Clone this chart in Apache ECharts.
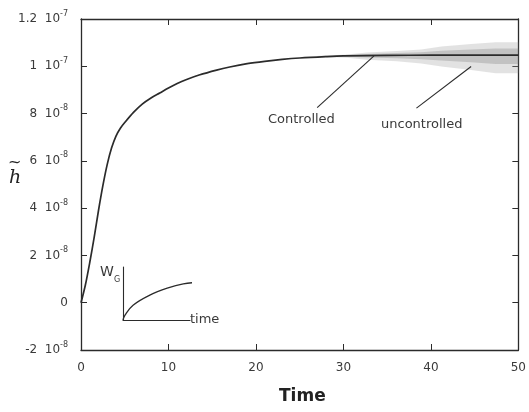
<!DOCTYPE html>
<html>
<head>
<meta charset="utf-8">
<title>Controlled vs uncontrolled response</title>
<script src="https://cdn.jsdelivr.net/npm/echarts@6/dist/echarts.min.js"></script>
<style>
  html, body { margin: 0; padding: 0; background: #fff; }
  #chart { width: 529px; height: 412px; }
</style>
</head>
<body>
<div id="chart"></div>
<script>
// Values on the vertical axis are expressed in units of 1e-8.

// Controlled response h~(t)
const ctrlT = [0, 0.5, 1, 1.5, 2, 2.5, 3, 3.5, 4, 4.5, 5, 6, 7, 8, 9, 10, 11, 12, 13.5, 15.5, 17, 19, 21, 23, 25, 28, 30, 35, 40, 45, 50];
const ctrlV = [0, 0.75, 1.7, 2.75, 3.9, 4.95, 5.85, 6.55, 7.05, 7.38, 7.62, 8.05, 8.4, 8.66, 8.87, 9.08, 9.27, 9.43, 9.63, 9.84, 9.97, 10.11, 10.21, 10.29, 10.35, 10.41, 10.44, 10.46, 10.47, 10.47, 10.47];

// Uncontrolled response: envelope of the growing oscillation about the plateau
const uncT     = [27, 30.4, 32.7, 36.1, 38.9, 41.2, 44.6, 47.4, 50];
const uncUpper = [10.44, 10.50, 10.58, 10.65, 10.71, 10.84, 10.94, 11.02, 11.02];
const uncLower = [10.40, 10.36, 10.28, 10.21, 10.12, 9.99, 9.84, 9.71, 9.71];
// denser core of the oscillation
const uncCoreUpper = [10.43, 10.47, 10.52, 10.56, 10.59, 10.66, 10.71, 10.75, 10.75];
const uncCoreLower = [10.41, 10.40, 10.37, 10.34, 10.30, 10.24, 10.17, 10.10, 10.10];

// Inset sketch: W_G versus time (normalised)
const insetT = [0, 0.03, 0.15, 0.40, 0.66, 0.90, 1.19];
const insetW = [0, 0.094, 0.28, 0.47, 0.60, 0.68, 0.72];

// Axis ticks
const xTicks = [0, 10, 20, 30, 40, 50];
const yTickMant = ['-2', '0', '2', '4', '6', '8', '1', '1.2'];
const yTickExp  = ['-8', '',  '-8', '-8', '-8', '-8', '-7', '-7'];
const Y_MIN = -2, Y_MAX = 12, Y_STEP = 2;

// Leader lines from the annotations to the curves, in data coordinates
const leaderControlled   = [[27.0, 8.25], [33.5, 10.44]];
const leaderUncontrolled = [[38.35, 8.23], [44.6, 9.99]];

const FONT = 'DejaVu Sans';
const INK = '#2b2b2b';
const TXT = '#3a3a3a';

const ctrlData = ctrlT.map((t, i) => [t, ctrlV[i]]);
const insetData = insetT.map((t, i) => [t, insetW[i]]);

// Closed polygon (upper edge forward, lower edge back) drawn in data space
function bandSeries(name, upper, lower, fill) {
  return {
    name: name, type: 'custom', xAxisIndex: 0, yAxisIndex: 0, silent: true, z: 1,
    data: uncT.map((t, i) => [t, upper[i], lower[i]]),
    encode: { x: 0, y: [1, 2] },
    renderItem: function (params, api) {
      if (params.dataIndex !== 0) return null;
      const pts = [];
      for (let i = 0; i < uncT.length; i++) pts.push(api.coord([uncT[i], upper[i]]));
      for (let i = uncT.length - 1; i >= 0; i--) pts.push(api.coord([uncT[i], lower[i]]));
      return { type: 'polygon', shape: { points: pts }, style: { fill: fill } };
    }
  };
}

const chart = echarts.init(document.getElementById('chart'), null, { renderer: 'canvas' });

const frameAxis = {
  type: 'value',
  gridIndex: 0,
  axisLine: { show: true, onZero: false, lineStyle: { color: INK, width: 1.3 } },
  axisTick: { show: true, inside: true, length: 6, lineStyle: { color: INK, width: 1 } },
  splitLine: { show: false }
};

chart.setOption({
  animation: false,
  backgroundColor: '#fff',
  grid: [
    { left: 81, top: 19, right: 6, bottom: 62 },
    { left: 123, top: 267, width: 67, height: 53 }
  ],
  xAxis: [
    Object.assign({}, frameAxis, {
      position: 'bottom', min: xTicks[0], max: xTicks[xTicks.length - 1], interval: xTicks[1] - xTicks[0],
      axisLabel: { show: true, margin: 12, fontSize: 12, fontFamily: FONT, color: TXT }
    }),
    Object.assign({}, frameAxis, {
      position: 'top', min: xTicks[0], max: xTicks[xTicks.length - 1], interval: xTicks[1] - xTicks[0],
      axisLabel: { show: false }
    }),
    {
      type: 'value', gridIndex: 1, min: 0, max: 1,
      axisLine: { show: true, onZero: false, lineStyle: { color: INK, width: 1.1 } },
      axisTick: { show: false }, axisLabel: { show: false }, splitLine: { show: false }
    }
  ],
  yAxis: [
    Object.assign({}, frameAxis, {
      position: 'left', min: Y_MIN, max: Y_MAX, interval: Y_STEP,
      axisLabel: {
        show: true, margin: 13,
        formatter: function (v) {
          const i = Math.round((v - Y_MIN) / Y_STEP);
          const m = yTickMant[i], e = yTickExp[i];
          return e ? '{b|' + m + '  10}{s|' + e + '}' : '{b|' + m + '}';
        },
        rich: {
          b: { fontSize: 12, fontFamily: FONT, color: TXT },
          s: { fontSize: 8, fontFamily: FONT, color: TXT, padding: [0, 0, 11, 0] }
        }
      }
    }),
    Object.assign({}, frameAxis, {
      position: 'right', min: Y_MIN, max: Y_MAX, interval: Y_STEP,
      axisLabel: { show: false }
    }),
    {
      type: 'value', gridIndex: 1, min: 0, max: 1,
      axisLine: { show: true, onZero: false, lineStyle: { color: INK, width: 1.1 } },
      axisTick: { show: false }, axisLabel: { show: false }, splitLine: { show: false }
    }
  ],
  series: [
    bandSeries('uncontrolled', uncUpper, uncLower, 'rgba(160,160,160,0.30)'),
    bandSeries('uncontrolled-core', uncCoreUpper, uncCoreLower, 'rgba(120,120,120,0.30)'),
    {
      name: 'Controlled', type: 'line', xAxisIndex: 0, yAxisIndex: 0,
      data: ctrlData, symbol: 'none', smooth: 0.3,
      lineStyle: { color: INK, width: 1.7 }, z: 3,
      markLine: {
        silent: true, symbol: ['none', 'none'],
        lineStyle: { color: INK, width: 1.1, type: 'solid' },
        label: { show: false },
        data: [
          [{ coord: leaderControlled[0] }, { coord: leaderControlled[1] }],
          [{ coord: leaderUncontrolled[0] }, { coord: leaderUncontrolled[1] }]
        ]
      }
    },
    {
      name: 'inset', type: 'line', xAxisIndex: 2, yAxisIndex: 2,
      data: insetData, symbol: 'none', smooth: 0.4, clip: false,
      lineStyle: { color: INK, width: 1.3 }
    }
  ],
  graphic: [
    { type: 'text', left: 268, top: 113, style: { text: 'Controlled', font: '13px "DejaVu Sans"', fill: TXT } },
    { type: 'text', left: 381, top: 118, style: { text: 'uncontrolled', font: '13px "DejaVu Sans"', fill: TXT } },
    { type: 'text', left: 279, top: 388, style: { text: 'Time', font: 'bold 17px "DejaVu Sans"', fill: '#222' } },
    { type: 'text', left: 9, top: 169, style: { text: 'h', font: 'italic 19px "DejaVu Serif"', fill: '#222' } },
    { type: 'text', left: 8, top: 155, style: { text: '~', font: '16px "DejaVu Sans"', fill: '#222' } },
    { type: 'text', left: 100, top: 265, style: { text: 'W', font: '14px "DejaVu Sans"', fill: TXT } },
    { type: 'text', left: 114, top: 276, style: { text: 'G', font: '8px "DejaVu Sans"', fill: TXT } },
    { type: 'text', left: 190, top: 313, style: { text: 'time', font: '13px "DejaVu Sans"', fill: TXT } }
  ]
});
</script>
</body>
</html>
